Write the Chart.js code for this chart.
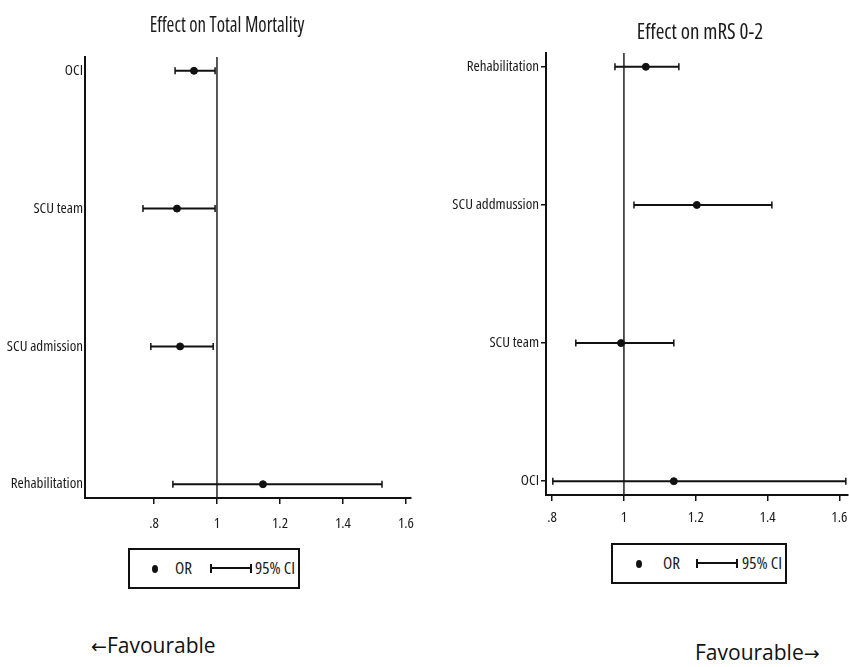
<!DOCTYPE html>
<html>
<head>
<meta charset="utf-8">
<script src="https://cdn.jsdelivr.net/npm/chart.js@4.4.1/dist/chart.umd.min.js"></script>
<style>
  html, body {
    margin: 0;
    padding: 0;
    background: #fff;
    width: 849px;
    height: 667px;
    overflow: hidden;
    position: relative;
  }
  .chart-box { position: absolute; top: 0; height: 540px; }
  #mortalityBox { left: 0; width: 430px; }
  #mrsBox { left: 430px; width: 440px; }
  .title {
    position: absolute;
    transform: translateX(-50%);
    white-space: nowrap;
    font-family: "Open Sans", sans-serif;
    font-stretch: condensed;
    font-size: 21px;
    line-height: 24px;
    color: #1a1a1a;
  }
  .legend {
    position: absolute;
    box-sizing: border-box;
    border: 2px solid #111;
    height: 41px;
    white-space: nowrap;
    font-family: "Open Sans", sans-serif;
    font-stretch: condensed;
    font-size: 17px;
    color: #1a1a1a;
  }
  .legend .dot {
    position: absolute;
    top: 15px;
    width: 6px;
    height: 8px;
    border-radius: 50%;
    background: #111;
  }
  .legend .txt { position: absolute; top: 8px; line-height: 20px; }
  .legend .ci {
    position: absolute;
    top: 14px;
    height: 9px;
    box-sizing: border-box;
    border-left: 2px solid #111;
    border-right: 2px solid #111;
  }
  .legend .ci::after {
    content: "";
    position: absolute;
    left: 0;
    right: 0;
    top: 3px;
    border-top: 2px solid #111;
  }
  .favour {
    position: absolute;
    white-space: nowrap;
    font-family: "Open Sans", sans-serif;
    font-stretch: 90%;
    font-size: 21px;
    line-height: 26px;
    color: #111;
  }
  .favour .arrow { font-family: "DejaVu Sans", sans-serif; font-size: 19px; }
</style>
</head>
<body>
<div class="chart-box" id="mortalityBox"><canvas id="mortalityChart"></canvas></div>
<div class="chart-box" id="mrsBox"><canvas id="mrsChart"></canvas></div>

<div class="title" style="left:227px; top:12px; transform: translateX(-50%) scaleX(0.9);">Effect on Total Mortality</div>
<div class="title" style="left:700px; top:19px;">Effect on mRS 0-2</div>

<div class="legend" style="left:128px; top:548px; width:172px;">
  <span class="dot" style="left:22px;"></span>
  <span class="txt" style="left:45px;">OR</span>
  <span class="ci" style="left:80px; width:42px;"></span>
  <span class="txt" style="left:125px;">95% CI</span>
</div>
<div class="legend" style="left:611px; top:543px; width:176px;">
  <span class="dot" style="left:23px;"></span>
  <span class="txt" style="left:50px;">OR</span>
  <span class="ci" style="left:83px; width:42px;"></span>
  <span class="txt" style="left:129px;">95% CI</span>
</div>

<div class="favour" style="left:91px; top:632px;"><span class="arrow">&larr;</span>Favourable</div>
<div class="favour" style="left:695px; top:639px;">Favourable<span class="arrow">&rarr;</span></div>

<script>
const TICK_FONT = { family: "'Open Sans', sans-serif", size: 15, weight: "condensed" };
const INK = "#111";

// Effect on Total Mortality
const mortalityLabels = ["OCI", "SCU team", "SCU admission", "Rehabilitation"];
const mortalityOR = [0.927, 0.873, 0.883, 1.146];
const mortalityLower = [0.867, 0.765, 0.79, 0.86];
const mortalityUpper = [0.994, 0.994, 0.988, 1.524];

// Effect on mRS 0-2
const mrsLabels = ["Rehabilitation", "SCU addmussion", "SCU team", "OCI"];
const mrsOR = [1.061, 1.203, 0.992, 1.139];
const mrsLower = [0.975, 1.028, 0.866, 0.802];
const mrsUpper = [1.153, 1.412, 1.139, 1.618];

const xTickValues = [0.8, 1, 1.2, 1.4, 1.6];
const refValue = 1;

function fmtTick(v) {
  return String(+v.toFixed(1)).replace(/^0\./, ".");
}

function makeForest(canvasId, o) {
  const yMin = 0.9;
  const yMax = o.labels.length + 0.1;

  const ciSets = o.labels.map((name, i) => ({
    label: name,
    data: [
      { x: o.lower[i], y: i + 1 },
      { x: o.upper[i], y: i + 1 },
    ],
    showLine: true,
    borderColor: INK,
    borderWidth: 2,
    pointStyle: "line",
    rotation: 90,
    pointRadius: 3.5,
    pointBorderWidth: 1.5,
    pointBorderColor: INK,
    order: 2,
  }));

  const orSet = {
    label: "OR",
    data: o.or.map((v, i) => ({ x: v, y: i + 1 })),
    pointStyle: "circle",
    pointRadius: 3.5,
    backgroundColor: INK,
    borderColor: INK,
    order: 1,
  };

  const refSet = {
    label: "ref",
    data: [
      { x: refValue, y: yMin },
      { x: refValue, y: yMax },
    ],
    showLine: true,
    borderColor: "#222",
    borderWidth: 1.5,
    pointRadius: 0,
    order: 3,
  };

  return new Chart(document.getElementById(canvasId), {
    type: "scatter",
    data: { datasets: [...ciSets, orSet, refSet] },
    options: {
      responsive: true,
      maintainAspectRatio: false,
      animation: false,
      events: [],
      layout: { padding: { left: 0, right: o.padRight, top: o.padTop, bottom: 0 } },
      scales: {
        x: {
          type: "linear",
          min: o.xMin,
          max: o.xMax,
          afterBuildTicks: (s) => {
            s.ticks = xTickValues.map((v) => ({ value: v }));
          },
          afterFit: (s) => {
            s.height = o.xHeight;
          },
          grid: {
            drawOnChartArea: false,
            drawTicks: true,
            tickLength: 6,
            color: INK,
            lineWidth: 1.5,
          },
          border: { display: true, color: INK, width: 2 },
          ticks: {
            padding: o.xPad,
            color: "#1a1a1a",
            maxRotation: 0,
            autoSkip: false,
            font: TICK_FONT,
            callback: (v) => fmtTick(v),
          },
        },
        y: {
          type: "linear",
          min: yMin,
          max: yMax,
          reverse: true,
          afterBuildTicks: (s) => {
            s.ticks = o.labels.map((_, i) => ({ value: i + 1 }));
          },
          afterFit: (s) => {
            s.width = o.yWidth;
          },
          grid: {
            drawOnChartArea: false,
            drawTicks: o.yTicks,
            tickLength: 5,
            color: INK,
            lineWidth: 1.5,
          },
          border: { display: true, color: INK, width: 2 },
          ticks: {
            padding: 2,
            color: "#1a1a1a",
            autoSkip: false,
            font: TICK_FONT,
            callback: (v) => o.labels[Math.round(v) - 1],
          },
        },
      },
      plugins: {
        legend: { display: false },
        tooltip: { enabled: false },
        title: { display: false },
      },
    },
  });
}

document.addEventListener("DOMContentLoaded", () => {
  makeForest("mortalityChart", {
    labels: mortalityLabels,
    or: mortalityOR,
    lower: mortalityLower,
    upper: mortalityUpper,
    xMin: 0.581,
    xMax: 1.616,
    yWidth: 85,
    yTicks: false,
    xHeight: 42,
    xPad: 11,
    padTop: 57,
    padRight: 19,
  });

  makeForest("mrsChart", {
    labels: mrsLabels,
    or: mrsOR,
    lower: mrsLower,
    upper: mrsUpper,
    xMin: 0.783,
    xMax: 1.624,
    yWidth: 116,
    yTicks: true,
    xHeight: 45,
    xPad: 8,
    padTop: 53,
    padRight: 22,
  });
});
</script>
</body>
</html>
